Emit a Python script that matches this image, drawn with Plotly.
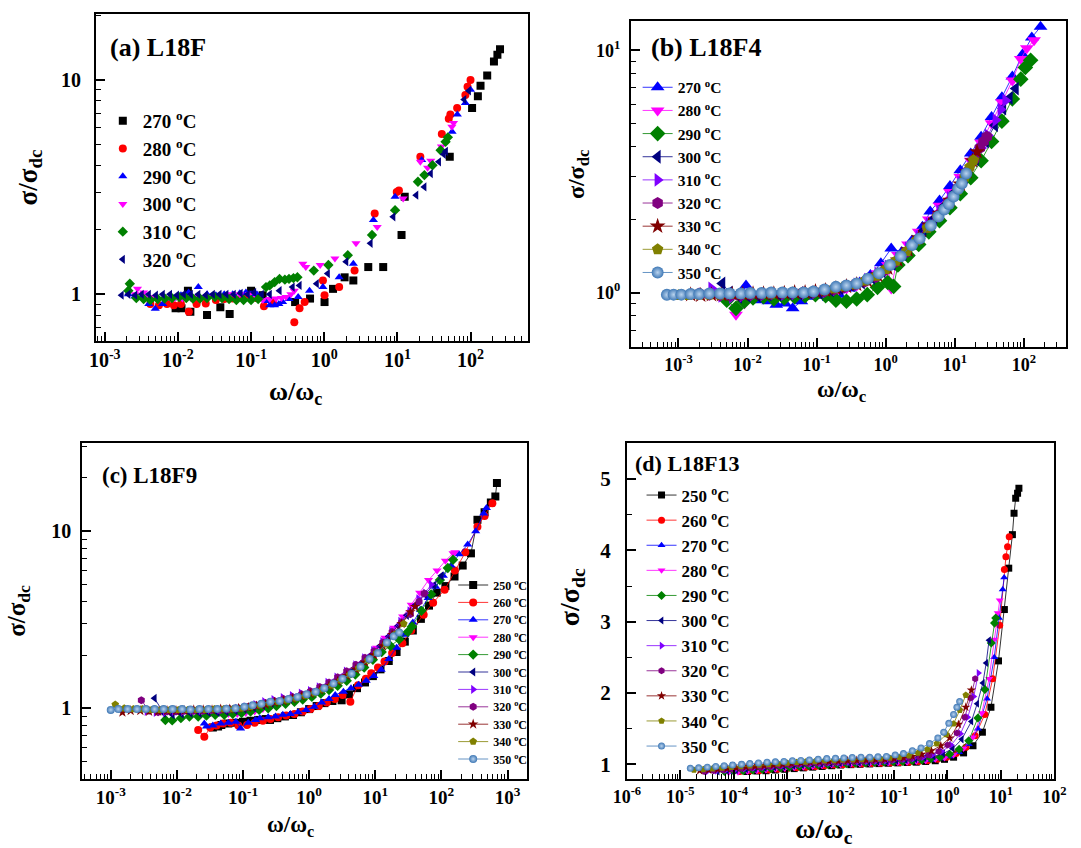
import plotly.graph_objects as go

W, H = 1081, 848
SERIF = "Liberation Serif"

# ---------------- (a) L18F : sigma/sigma_dc vs omega/omega_c ----------------
A270_X = [0.0093, 0.0112, 0.0137, 0.0148, 0.025, 0.038, 0.051, 0.10, 0.144, 0.40, 0.64, 1.01, 1.32, 1.9,
          2.5, 4.0, 6.4, 11.4, 12.6, 52, 105, 126, 137, 169, 209, 233, 253]
A270_Y = [0.86, 0.86, 1.04, 0.83, 0.80, 0.87, 0.81, 1.04, 0.99, 0.92, 0.955, 0.92, 1.06, 1.2,
          1.16, 1.34, 1.34, 1.89, 2.85, 4.38, 7.4, 8.4, 9.4, 10.5, 12.2, 13.1, 13.9]
A280_X = [0.0042, 0.0055, 0.0071, 0.0088, 0.011, 0.0141, 0.018, 0.024, 0.033, 0.043, 0.056, 0.075, 0.095,
          0.12, 0.15, 0.2, 0.39, 0.46, 0.54, 0.96, 1.01, 1.6, 2.6, 4.9, 9.8, 10.5, 20.6, 40.5, 50.4, 53,
          65.6, 85, 91, 100]
A280_Y = [0.9, 0.89, 0.9, 0.89, 0.9, 0.83, 0.9, 0.905, 0.94, 0.95, 0.955, 0.97, 0.99,
          0.96, 0.88, 0.92, 0.74, 0.86, 0.92, 1.16, 0.99, 1.08, 1.29, 2.38, 3.0, 3.05, 4.38, 5.6, 6.6, 6.9,
          7.4, 8.5, 9.3, 10.0]
A290_X = [0.0021, 0.0026, 0.0032, 0.004, 0.0049, 0.0062, 0.0084, 0.011, 0.014, 0.019, 0.025, 0.033, 0.043,
          0.056, 0.07, 0.085, 0.1, 0.12, 0.16, 0.18, 0.21, 0.24, 0.27, 0.33, 0.44, 0.63, 0.96, 1.6, 2.5,
          4.7, 9.3, 21.5, 56, 66, 85, 100]
A290_Y = [1.0, 0.98, 0.97, 0.9, 0.857, 0.9, 0.955, 0.99, 1.02, 1.08, 1.0, 0.99, 1.0,
          1.0, 1.01, 1.02, 1.0, 1.0, 0.93, 0.89, 0.89, 0.9, 0.92, 0.95, 0.97, 1.04, 1.08, 1.2, 1.39,
          2.22, 2.85, 4.23, 5.74, 6.9, 7.8, 9.0]
A300_X = [0.0026, 0.0028, 0.0034, 0.004, 0.005, 0.0068, 0.009, 0.0115, 0.015, 0.019, 0.025, 0.033, 0.042,
          0.053, 0.07, 0.095, 0.12, 0.145, 0.18, 0.22, 0.26, 0.3, 0.35, 0.39, 0.51, 0.56, 0.88, 1.4, 2.72,
          5.3, 12.0, 20.6, 25.9, 28.6, 40, 55.6, 58.6]
A300_Y = [1.0, 1.06, 1.02, 0.97, 0.96, 0.955, 0.96, 0.955, 0.96, 0.97, 0.97, 0.97, 0.98,
          1.0, 1.0, 1.0, 0.96, 0.94, 0.95, 0.955, 0.96, 0.97, 1.0, 1.04, 1.39, 1.34, 1.37, 1.47, 1.73,
          2.06, 2.8, 4.15, 3.9, 4.2, 4.9, 6.05, 6.3]
A310_X = [0.0021, 0.0022, 0.0027, 0.0034, 0.0042, 0.0053, 0.0066, 0.0083, 0.0104, 0.013, 0.016, 0.02,
          0.025, 0.032, 0.04, 0.05, 0.063, 0.079, 0.1, 0.125, 0.16, 0.18, 0.21, 0.245, 0.29, 0.33, 0.38,
          0.43, 0.72, 1.14, 2.1, 4.5, 9.3, 19.1, 23.4, 30.2, 39, 45.6, 49]
A310_Y = [1.04, 1.12, 0.96, 0.95, 0.94, 0.95, 0.955, 0.96, 0.97, 0.96, 0.955, 0.955,
          0.96, 0.97, 0.96, 0.95, 0.94, 0.94, 0.94, 0.95, 1.08, 1.10, 1.14, 1.18, 1.17, 1.18, 1.19,
          1.2, 1.29, 1.37, 1.52, 1.89, 2.47, 3.35, 3.6, 4.0, 4.7, 5.15, 5.4]
A320_X = [0.0017, 0.0021, 0.0026, 0.0032, 0.004, 0.005, 0.0062, 0.0078, 0.0097, 0.012, 0.015, 0.019,
          0.024, 0.03, 0.037, 0.046, 0.058, 0.072, 0.09, 0.11, 0.14, 0.18, 0.245, 0.37, 0.46, 0.79, 1.12,
          2.0, 4.3, 8.8, 18.1, 23.4, 28.6, 37, 43, 46, 82, 95]
A320_Y = [0.99, 1.0, 0.99, 1.0, 1.0, 0.99, 1.0, 1.0, 0.99, 1.0, 1.0, 1.0,
          0.99, 1.0, 1.0, 1.0, 1.0, 1.01, 1.0, 1.02, 1.0, 1.0, 1.04, 1.08, 1.10, 1.12, 1.25,
          1.42, 1.73, 2.3, 2.9, 3.17, 3.66, 4.15, 4.5, 4.65, 8.1, 8.9]

# ---------------- (b) L18F4 ----------------
B270_X = [8e-3, 0.0095, 0.012, 0.015, 0.02, 0.026, 0.035, 0.045, 0.06, 0.08, 0.11, 0.15, 0.21, 0.3, 0.42,
          0.6, 0.85, 1.2, 1.7, 2.4, 3.4, 4.4, 6.0, 8.5, 12, 17, 24, 34, 48, 68, 95, 130, 174]
B270_Y = [0.97, 1.07, 0.96, 0.93, 0.92, 0.89, 0.9, 0.86, 0.92, 0.96, 0.97, 0.95, 0.98, 1.04, 1.1,
          1.18, 1.32, 1.52, 1.47, 1.64, 1.87, 2.16, 2.4, 2.75, 3.2, 3.75, 4.4, 5.3, 6.4, 7.8, 9.6, 11.3, 12.5]
B280_X = [5e-3, 6.8e-3, 9e-3, 0.012, 0.017, 0.024, 0.034, 0.048, 0.068, 0.096, 0.135, 0.19, 0.27, 0.38,
          0.54, 0.76, 1.07, 1.2, 1.5, 2.1, 3.0, 4.2, 6.0, 8.5, 12, 17, 24, 34, 48, 68, 90, 110, 140]
B280_Y = [0.93, 0.81, 0.9, 0.95, 0.96, 0.96, 0.95, 0.97, 0.98, 0.99, 0.99, 1.0, 1.04, 1.07,
          1.12, 1.2, 1.3, 1.04, 1.43, 1.58, 1.78, 2.0, 2.28, 2.6, 3.0, 3.5, 4.15, 5.0, 6.1, 7.5, 9.2, 10.2, 11.0]
B290_X = [5e-3, 6.8e-3, 9e-3, 0.012, 0.017, 0.024, 0.034, 0.048, 0.068, 0.096, 0.135, 0.19, 0.27, 0.38,
          0.54, 0.76, 1.07, 1.3, 1.5, 2.1, 3.0, 4.2, 6.0, 8.5, 12, 17, 24, 34, 48, 68, 90, 105, 125]
B290_Y = [0.93, 0.86, 0.92, 0.95, 0.96, 0.94, 0.95, 0.96, 0.97, 0.98, 0.97, 0.93, 0.92, 0.94,
          0.98, 1.05, 1.1, 1.06, 1.3, 1.42, 1.58, 1.78, 1.98, 2.24, 2.56, 2.98, 3.5, 4.2, 5.1, 6.3, 7.6, 8.5, 9.1]
B300_X = [4.3e-3, 5.5e-3, 7.5e-3, 0.01, 0.014, 0.02, 0.028, 0.04, 0.056, 0.08, 0.11, 0.16, 0.22, 0.32,
          0.45, 0.63, 0.9, 1.25, 1.8, 2.5, 3.5, 5.0, 7.0, 10, 14, 20, 28, 38, 50, 62, 76]
B300_Y = [1.09, 1.0, 0.96, 0.97, 0.97, 0.98, 0.98, 0.99, 0.99, 1.0, 1.0, 1.02, 1.04, 1.07,
          1.1, 1.15, 1.22, 1.31, 1.44, 1.6, 1.8, 2.02, 2.28, 2.6, 3.0, 3.55, 4.2, 4.9, 5.75, 6.35, 6.95]
B310_X = [3e-3, 4.2e-3, 6e-3, 8.5e-3, 0.012, 0.017, 0.024, 0.034, 0.048, 0.068, 0.096, 0.135, 0.19, 0.27,
          0.38, 0.54, 0.76, 1.07, 1.5, 2.1, 3.0, 4.2, 6.0, 8.5, 12, 17, 24, 30, 39, 46, 54]
B310_Y = [1.04, 0.97, 0.96, 0.97, 0.98, 0.98, 0.99, 0.985, 0.99, 0.995, 1.0, 1.01, 1.03, 1.05,
          1.08, 1.13, 1.2, 1.28, 1.38, 1.52, 1.7, 1.92, 2.16, 2.46, 2.85, 3.35, 3.95, 4.45, 5.15, 5.7, 6.2]
B320_X = [2e-3, 2.8e-3, 4e-3, 5.6e-3, 8e-3, 0.011, 0.016, 0.022, 0.032, 0.045, 0.063, 0.09, 0.13, 0.18,
          0.25, 0.36, 0.5, 0.72, 1.0, 1.4, 2.0, 2.8, 4.0, 5.6, 8.0, 11, 15, 19, 23, 26, 29]
B320_Y = [0.99, 0.98, 0.975, 0.97, 0.975, 0.98, 0.985, 0.985, 0.99, 0.995, 1.0, 1.0, 1.01, 1.03,
          1.05, 1.08, 1.11, 1.16, 1.24, 1.34, 1.47, 1.64, 1.86, 2.08, 2.36, 2.7, 3.15, 3.55, 3.95, 4.2, 4.4]
B330_X = [1.5e-3, 2.1e-3, 3e-3, 4.2e-3, 6e-3, 8.5e-3, 0.012, 0.017, 0.024, 0.034, 0.048, 0.068, 0.096,
          0.135, 0.19, 0.27, 0.38, 0.54, 0.76, 1.07, 1.5, 2.1, 3.0, 4.2, 6.0, 8.5, 12, 15, 18, 21]
B330_Y = [0.98, 0.975, 0.98, 0.98, 0.985, 0.985, 0.99, 0.99, 0.99, 0.995, 1.0, 1.0, 1.01,
          1.02, 1.04, 1.06, 1.08, 1.12, 1.18, 1.26, 1.36, 1.5, 1.68, 1.9, 2.12, 2.4, 2.8, 3.15, 3.5, 3.81]
B340_X = [1e-3, 1.4e-3, 2e-3, 2.8e-3, 4e-3, 5.6e-3, 8e-3, 0.011, 0.016, 0.022, 0.032, 0.045, 0.063, 0.09,
          0.13, 0.18, 0.25, 0.36, 0.5, 0.72, 1.0, 1.4, 2.0, 2.8, 4.0, 5.6, 8.0, 11, 14, 16.5, 18.6]
B340_Y = [0.975, 0.975, 0.98, 0.98, 0.98, 0.985, 0.985, 0.99, 0.99, 0.99, 0.995, 1.0, 1.0, 1.01,
          1.02, 1.04, 1.06, 1.08, 1.12, 1.17, 1.25, 1.35, 1.48, 1.64, 1.85, 2.06, 2.32, 2.65, 3.0, 3.3, 3.52]
B350_X = [6.8e-4, 8.5e-4, 1.1e-3, 1.5e-3, 2e-3, 2.8e-3, 4e-3, 5.5e-3, 8e-3, 0.011, 0.016, 0.022, 0.032,
          0.045, 0.065, 0.09, 0.13, 0.19, 0.27, 0.38, 0.55, 0.8, 1.15, 1.65, 2.4, 3.1, 4.5, 5.8, 7.0, 8.2,
          9.6, 11.2, 12.6, 14.6]
B350_Y = [0.978, 0.98, 0.98, 0.985, 0.985, 0.99, 0.99, 0.99, 0.99, 0.995, 0.995, 1.0, 1.0,
          1.0, 1.0, 1.01, 1.03, 1.055, 1.07, 1.09, 1.14, 1.2, 1.3, 1.41, 1.57, 1.67, 1.89, 2.06, 2.2, 2.32,
          2.49, 2.68, 2.82, 3.1]

# ---------------- (c) L18F9 ----------------
C250_X = [0.035, 0.042, 0.047, 0.06, 0.078, 0.1, 0.13, 0.17, 0.22, 0.256, 0.33, 0.43, 0.57, 0.75, 1.0,
          1.3, 1.7, 2.25, 3.1, 4.0, 5.3, 7.0, 9.2, 12, 16, 21, 28, 37, 49, 65, 85, 115, 158, 210, 280,
          351, 450, 560, 655, 692]
C250_Y = [0.78, 0.79, 0.805, 0.82, 0.83, 0.84, 0.85, 0.86, 0.87, 0.86, 0.88, 0.9, 0.917, 0.95, 0.99,
          1.03, 1.07, 1.1, 1.11, 1.2, 1.3, 1.4, 1.52, 1.66, 1.85, 2.08, 2.38, 2.75, 3.2, 3.8, 4.5, 4.9, 5.55,
          6.4, 7.5, 11.6, 12.8, 14.5, 15.7, 18.7]
C260_X = [0.021, 0.026, 0.032, 0.04, 0.05, 0.065, 0.085, 0.115, 0.15, 0.2, 0.26, 0.34, 0.45, 0.6, 0.8,
          1.05, 1.4, 1.85, 2.45, 3.2, 4.2, 5.5, 7.2, 8.7, 11, 13.8, 18, 25.7, 35, 54, 75, 112, 160, 230,
          351, 450, 590]
C260_Y = [0.755, 0.69, 0.78, 0.8, 0.82, 0.83, 0.8, 0.805, 0.83, 0.85, 0.87, 0.89, 0.91, 0.93, 0.96,
          0.99, 1.03, 1.08, 1.13, 1.19, 1.09, 1.35, 1.47, 1.58, 1.7, 1.84, 2.05, 2.33, 2.75, 3.37, 3.95,
          4.67, 6.0, 7.6, 10.6, 12.2, 14.4]
C270_X = [0.026, 0.028, 0.035, 0.046, 0.06, 0.078, 0.092, 0.12, 0.155, 0.18, 0.24, 0.31, 0.4, 0.52, 0.68,
          0.9, 1.2, 1.55, 2.0, 2.48, 3.3, 4.3, 5.6, 7.3, 9.5, 12.3, 16, 21, 28, 37, 48, 63, 82, 107, 140,
          185, 250, 330, 436, 480]
C270_Y = [0.82, 0.79, 0.8, 0.82, 0.83, 0.84, 0.77, 0.83, 0.86, 0.88, 0.89, 0.9, 0.92, 0.93, 0.95,
          0.98, 1.02, 1.08, 1.13, 1.19, 1.24, 1.3, 1.36, 1.43, 1.52, 1.65, 1.9, 2.2, 2.6, 3.05, 3.6, 4.2,
          4.85, 5.6, 6.4, 7.4, 8.4, 10.0, 12.6, 13.5]
C280_X = [0.01, 0.0135, 0.018, 0.025, 0.033, 0.045, 0.06, 0.082, 0.11, 0.15, 0.2, 0.27, 0.37, 0.5, 0.68,
          0.92, 1.25, 1.7, 2.3, 3.1, 4.2, 5.7, 7.7, 10.4, 14, 19, 26, 35, 47, 64, 86, 115, 150, 160]
C280_Y = [0.98, 0.97, 0.96, 0.95, 0.94, 0.94, 0.93, 0.93, 0.94, 0.96, 0.99, 1.03, 1.07, 1.1, 1.14,
          1.18, 1.23, 1.3, 1.38, 1.48, 1.6, 1.76, 1.95, 2.2, 2.5, 2.85, 3.3, 3.85, 4.5, 5.3, 6.0, 6.8, 7.5, 7.6]
C290_X = [6.7e-3, 8.5e-3, 0.0115, 0.0155, 0.021, 0.028, 0.038, 0.052, 0.07, 0.095, 0.13, 0.175, 0.24,
          0.32, 0.44, 0.6, 0.8, 1.1, 1.5, 2.0, 2.7, 3.7, 5.0, 6.8, 9.2, 12.5, 17, 23, 31, 36, 50, 70, 95,
          125, 150]
C290_Y = [0.86, 0.855, 0.88, 0.9, 0.9, 0.91, 0.92, 0.92, 0.93, 0.94, 0.96, 0.98, 1.0,
          1.03, 1.06, 1.09, 1.12, 1.16, 1.21, 1.27, 1.34, 1.43, 1.55, 1.7, 1.88, 2.08, 2.25, 2.45, 2.7,
          2.9, 3.55, 4.4, 5.3, 6.2, 6.9]
C300_X = [4.6e-3, 6.3e-3, 8.6e-3, 0.0118, 0.016, 0.022, 0.03, 0.041, 0.056, 0.077, 0.105, 0.145, 0.2,
          0.27, 0.37, 0.51, 0.7, 0.96, 1.3, 1.8, 2.45, 3.35, 4.6, 6.3, 8.6, 11.8, 16, 22, 30, 41, 56, 77, 100]
C300_Y = [1.14, 0.94, 0.92, 0.93, 0.94, 0.94, 0.95, 0.95, 0.96, 0.97, 0.99, 1.01, 1.04,
          1.07, 1.1, 1.13, 1.17, 1.21, 1.26, 1.33, 1.41, 1.51, 1.64, 1.8, 2.0, 2.25, 2.55, 2.92, 3.35,
          3.85, 4.4, 4.95, 5.6]
C310_X = [3.5e-3, 4.8e-3, 6.6e-3, 9e-3, 0.0124, 0.017, 0.023, 0.032, 0.044, 0.06, 0.082, 0.11, 0.155,
          0.21, 0.29, 0.4, 0.55, 0.75, 1.03, 1.4, 1.9, 2.6, 3.6, 5.0, 6.8, 9.3, 12.8, 17.5, 24, 33, 45, 57, 70]
C310_Y = [0.96, 0.95, 0.95, 0.96, 0.96, 0.97, 0.97, 0.98, 0.98, 0.99, 1.0, 1.02, 1.05,
          1.09, 1.12, 1.15, 1.18, 1.22, 1.26, 1.32, 1.4, 1.5, 1.62, 1.76, 1.93, 2.12, 2.38, 2.72, 3.1,
          3.55, 4.15, 4.47, 5.0]
C320_X = [2.9e-3, 3.8e-3, 5.2e-3, 7.1e-3, 9.7e-3, 0.013, 0.018, 0.025, 0.034, 0.046, 0.063, 0.086, 0.12,
          0.16, 0.22, 0.3, 0.41, 0.56, 0.77, 1.05, 1.45, 2.0, 2.7, 3.7, 5.1, 7.0, 9.6, 13, 18, 25, 34, 46, 55]
C320_Y = [1.11, 0.97, 0.95, 0.96, 0.96, 0.97, 0.97, 0.97, 0.98, 0.98, 0.99, 1.0, 1.02,
          1.04, 1.07, 1.1, 1.13, 1.16, 1.2, 1.25, 1.32, 1.4, 1.5, 1.62, 1.76, 1.93, 2.1, 2.35, 2.7, 3.05,
          3.4, 4.0, 4.45]
C330_X = [1.5e-3, 2e-3, 2.8e-3, 3.8e-3, 5.2e-3, 7.1e-3, 9.7e-3, 0.013, 0.018, 0.025, 0.034, 0.046, 0.063,
          0.086, 0.12, 0.16, 0.22, 0.3, 0.41, 0.56, 0.77, 1.05, 1.45, 2.0, 2.7, 3.7, 5.1, 7.0, 9.6, 13, 18,
          25, 34, 40]
C330_Y = [0.95, 0.97, 0.97, 0.96, 0.96, 0.97, 0.97, 0.97, 0.98, 0.98, 0.98, 0.99, 0.99,
          1.0, 1.01, 1.03, 1.05, 1.08, 1.1, 1.13, 1.17, 1.21, 1.27, 1.34, 1.42, 1.53, 1.66, 1.82, 2.0, 2.25,
          2.6, 3.0, 3.5, 3.75]
C340_X = [1.17e-3, 1.6e-3, 2.2e-3, 3e-3, 4.1e-3, 5.6e-3, 7.7e-3, 0.0105, 0.0145, 0.02, 0.027, 0.037,
          0.051, 0.07, 0.096, 0.13, 0.18, 0.25, 0.34, 0.46, 0.63, 0.87, 1.2, 1.6, 2.2, 3.0, 4.1, 5.6, 7.7,
          10.5, 14.5, 20, 27]
C340_Y = [1.05, 1.0, 0.99, 0.99, 0.98, 0.98, 0.98, 0.98, 0.98, 0.98, 0.98, 0.99,
          0.99, 0.99, 1.0, 1.02, 1.04, 1.07, 1.09, 1.11, 1.14, 1.18, 1.22, 1.28, 1.35, 1.44, 1.55, 1.69,
          1.87, 2.06, 2.3, 2.62, 3.0]
C350_X = [1.0e-3, 1.3e-3, 1.8e-3, 2.5e-3, 3.4e-3, 4.6e-3, 6.3e-3, 8.6e-3, 0.012, 0.016, 0.022, 0.03,
          0.041, 0.056, 0.077, 0.105, 0.14, 0.19, 0.26, 0.36, 0.49, 0.67, 0.92, 1.26, 1.7, 2.34, 3.2, 4.4,
          6.0, 8.2, 11, 15, 19, 23]
C350_Y = [0.98, 0.99, 0.99, 0.99, 0.99, 0.99, 0.99, 0.99, 0.99, 0.985, 0.99, 0.99,
          0.99, 0.995, 1.0, 1.02, 1.04, 1.06, 1.09, 1.1, 1.13, 1.16, 1.2, 1.24, 1.3, 1.38, 1.47, 1.57,
          1.72, 1.9, 2.05, 2.35, 2.55, 2.68]

# ---------------- (d) L18F13 ----------------
D250_X = [1.8e-4, 2.7e-4, 4e-4, 6e-4, 9e-4, 1.35e-3, 2e-3, 3e-3, 4.5e-3, 6.8e-3, 0.01, 0.0155, 0.023,
          0.035, 0.052, 0.078, 0.117, 0.175, 0.26, 0.39, 0.59, 0.88, 1.3, 2.0, 3.0, 4.5, 6.5, 9.0, 11.6,
          14, 16.4, 17.6, 18.9, 20.5, 21.7]
D250_Y = [0.9, 0.905, 0.91, 0.92, 0.93, 0.94, 0.95, 0.96, 0.97, 0.98, 0.99, 0.995, 1.0,
          1.005, 1.01, 1.015, 1.02, 1.025, 1.03, 1.04, 1.05, 1.07, 1.1, 1.16, 1.26, 1.45, 1.8, 2.45, 3.17,
          3.75, 4.22, 4.52, 4.73, 4.8, 4.87]
D260_X = [1.3e-4, 2e-4, 3e-4, 4.5e-4, 6.7e-4, 1e-3, 1.5e-3, 2.25e-3, 3.4e-3, 5e-3, 7.5e-3, 0.011, 0.017,
          0.025, 0.038, 0.057, 0.085, 0.128, 0.19, 0.29, 0.43, 0.65, 0.97, 1.45, 2.2, 3.3, 5.0, 7.0, 9.5,
          11.6, 12.4, 13.3, 14.3]
D260_Y = [0.9, 0.905, 0.91, 0.92, 0.93, 0.94, 0.95, 0.96, 0.97, 0.98, 0.99, 0.995, 1.0,
          1.005, 1.01, 1.015, 1.02, 1.025, 1.03, 1.04, 1.05, 1.07, 1.1, 1.15, 1.24, 1.4, 1.7, 2.2, 2.95,
          3.73, 3.91, 4.05, 4.19]
D270_X = [1e-4, 1.5e-4, 2.25e-4, 3.4e-4, 5e-4, 7.5e-4, 1.1e-3, 1.7e-3, 2.5e-3, 3.8e-3, 5.7e-3, 8.5e-3,
          0.0128, 0.019, 0.029, 0.043, 0.065, 0.097, 0.145, 0.22, 0.33, 0.49, 0.73, 1.1, 1.65, 2.5, 3.7,
          5.5, 7.5, 9.2, 10.8, 11.5]
D270_Y = [0.89, 0.9, 0.91, 0.92, 0.93, 0.94, 0.95, 0.96, 0.97, 0.98, 0.99, 0.995,
          1.0, 1.005, 1.01, 1.015, 1.02, 1.025, 1.03, 1.04, 1.05, 1.06, 1.08, 1.11, 1.17, 1.28, 1.5,
          1.92, 2.5, 3.05, 3.45, 3.62]
D280_X = [8e-5, 1.2e-4, 1.8e-4, 2.7e-4, 4e-4, 6e-4, 9e-4, 1.35e-3, 2e-3, 3e-3, 4.5e-3, 6.8e-3, 0.01,
          0.0155, 0.023, 0.035, 0.052, 0.078, 0.117, 0.175, 0.26, 0.39, 0.59, 0.88, 1.3, 2.0, 3.0, 4.4,
          6.0, 7.5, 8.7, 9.5]
D280_Y = [0.88, 0.89, 0.9, 0.91, 0.92, 0.93, 0.94, 0.95, 0.96, 0.97, 0.98, 0.99, 0.995,
          1.0, 1.005, 1.01, 1.015, 1.02, 1.025, 1.03, 1.04, 1.05, 1.07, 1.09, 1.13, 1.22, 1.38, 1.72,
          2.2, 2.75, 3.12, 3.3]
D290_X = [6.7e-5, 1e-4, 1.5e-4, 2.25e-4, 3.4e-4, 5e-4, 7.5e-4, 1.1e-3, 1.7e-3, 2.5e-3, 3.8e-3, 5.7e-3,
          8.5e-3, 0.0128, 0.019, 0.029, 0.043, 0.065, 0.097, 0.145, 0.22, 0.33, 0.49, 0.73, 1.1, 1.65, 2.5,
          3.7, 5.0, 6.6, 7.6, 8.0]
D290_Y = [0.9, 0.905, 0.91, 0.92, 0.93, 0.94, 0.95, 0.96, 0.97, 0.98, 0.99, 1.0,
          1.005, 1.01, 1.015, 1.02, 1.025, 1.03, 1.035, 1.04, 1.05, 1.06, 1.08, 1.1, 1.14, 1.21, 1.33,
          1.65, 2.05, 2.7, 2.98, 3.05]
D300_X = [5e-5, 7.5e-5, 1.1e-4, 1.7e-4, 2.5e-4, 3.8e-4, 5.7e-4, 8.5e-4, 1.3e-3, 1.9e-3, 2.9e-3, 4.3e-3,
          6.5e-3, 9.7e-3, 0.0145, 0.022, 0.033, 0.049, 0.073, 0.11, 0.165, 0.25, 0.37, 0.55, 0.83, 1.25,
          1.85, 2.8, 3.6, 4.6, 5.3, 6.0]
D300_Y = [0.9, 0.91, 0.92, 0.93, 0.94, 0.95, 0.96, 0.97, 0.98, 0.99, 1.0, 1.005,
          1.01, 1.015, 1.02, 1.025, 1.03, 1.035, 1.04, 1.05, 1.06, 1.07, 1.09, 1.11, 1.15, 1.22,
          1.35, 1.6, 1.85, 2.14, 2.42, 2.74]
D310_X = [3.2e-5, 4.8e-5, 7.2e-5, 1.1e-4, 1.6e-4, 2.4e-4, 3.6e-4, 5.4e-4, 8.1e-4, 1.2e-3, 1.8e-3, 2.7e-3,
          4.1e-3, 6.1e-3, 9.2e-3, 0.014, 0.021, 0.031, 0.046, 0.07, 0.1, 0.155, 0.23, 0.35, 0.52, 0.78,
          1.17, 1.75, 2.4, 3.1, 3.8]
D310_Y = [0.9, 0.91, 0.92, 0.93, 0.94, 0.95, 0.96, 0.97, 0.98, 0.99, 1.0, 1.005,
          1.01, 1.02, 1.025, 1.03, 1.035, 1.04, 1.045, 1.05, 1.06, 1.07, 1.08, 1.1, 1.13, 1.18,
          1.27, 1.43, 1.66, 1.95, 2.28]
D320_X = [2.8e-5, 4.2e-5, 6.3e-5, 9.5e-5, 1.4e-4, 2.1e-4, 3.2e-4, 4.8e-4, 7.2e-4, 1.1e-3, 1.6e-3, 2.4e-3,
          3.6e-3, 5.4e-3, 8e-3, 0.012, 0.018, 0.027, 0.04, 0.06, 0.09, 0.135, 0.2, 0.3, 0.45, 0.68, 1.0,
          1.5, 2.1, 2.7, 3.3]
D320_Y = [0.9, 0.91, 0.92, 0.93, 0.94, 0.95, 0.96, 0.97, 0.98, 0.99, 1.0, 1.01,
          1.02, 1.025, 1.03, 1.035, 1.04, 1.045, 1.05, 1.055, 1.06, 1.07, 1.08, 1.1, 1.13, 1.18, 1.27,
          1.44, 1.66, 1.93, 2.2]
D330_X = [2.3e-5, 3.4e-5, 5e-5, 7.5e-5, 1.1e-4, 1.7e-4, 2.5e-4, 3.7e-4, 5.5e-4, 8.2e-4, 1.2e-3, 1.8e-3,
          2.7e-3, 4e-3, 6e-3, 9e-3, 0.0135, 0.02, 0.03, 0.045, 0.067, 0.1, 0.15, 0.22, 0.33, 0.5, 0.75,
          1.1, 1.6, 2.2, 2.8]
D330_Y = [0.91, 0.92, 0.93, 0.94, 0.95, 0.96, 0.97, 0.98, 0.99, 1.0, 1.01, 1.02,
          1.03, 1.035, 1.04, 1.045, 1.05, 1.055, 1.06, 1.065, 1.07, 1.08, 1.09, 1.11, 1.14, 1.19, 1.26,
          1.37, 1.56, 1.8, 2.04]
D340_X = [1.8e-5, 2.7e-5, 4e-5, 6e-5, 9e-5, 1.35e-4, 2e-4, 3e-4, 4.5e-4, 6.7e-4, 1e-3, 1.5e-3, 2.2e-3,
          3.3e-3, 5e-3, 7.5e-3, 0.011, 0.017, 0.025, 0.037, 0.055, 0.083, 0.125, 0.19, 0.28, 0.42, 0.63,
          0.95, 1.3, 1.7, 2.2]
D340_Y = [0.92, 0.93, 0.94, 0.95, 0.96, 0.97, 0.98, 0.99, 1.0, 1.01, 1.02, 1.03, 1.035,
          1.04, 1.05, 1.055, 1.06, 1.065, 1.07, 1.075, 1.08, 1.09, 1.1, 1.12, 1.16, 1.21, 1.29,
          1.42, 1.57, 1.76, 1.97]
D350_X = [1.54e-5, 2.2e-5, 3.2e-5, 4.6e-5, 6.6e-5, 9.5e-5, 1.4e-4, 2e-4, 2.9e-4, 4.2e-4, 6e-4, 8.7e-4,
          1.25e-3, 1.8e-3, 2.6e-3, 3.8e-3, 5.5e-3, 8e-3, 0.0115, 0.0165, 0.024, 0.035, 0.05, 0.072, 0.105,
          0.15, 0.22, 0.32, 0.46, 0.66, 0.85, 1.06, 1.3, 1.5, 1.69]
D350_Y = [0.944, 0.95, 0.96, 0.97, 0.98, 0.99, 1.0, 1.01, 1.02, 1.03, 1.035, 1.04,
          1.05, 1.055, 1.06, 1.07, 1.08, 1.085, 1.09, 1.095, 1.1, 1.1, 1.105, 1.11, 1.13,
          1.15, 1.19, 1.23, 1.29, 1.37, 1.45, 1.575, 1.7, 1.8, 1.88]

# ---------------- temperatures & ticks ----------------
A_TEMPS = [270, 280, 290, 300, 310, 320]
B_TEMPS = [270, 280, 290, 300, 310, 320, 330, 340, 350]
CD_TEMPS = [250, 260, 270, 280, 290, 300, 310, 320, 330, 340, 350]

A_SERIES = [(A270_X, A270_Y), (A280_X, A280_Y), (A290_X, A290_Y),
            (A300_X, A300_Y), (A310_X, A310_Y), (A320_X, A320_Y)]
B_SERIES = [(B270_X, B270_Y), (B280_X, B280_Y), (B290_X, B290_Y), (B300_X, B300_Y), (B310_X, B310_Y),
            (B320_X, B320_Y), (B330_X, B330_Y), (B340_X, B340_Y), (B350_X, B350_Y)]
C_SERIES = [(C250_X, C250_Y), (C260_X, C260_Y), (C270_X, C270_Y), (C280_X, C280_Y), (C290_X, C290_Y),
            (C300_X, C300_Y), (C310_X, C310_Y), (C320_X, C320_Y), (C330_X, C330_Y), (C340_X, C340_Y),
            (C350_X, C350_Y)]
D_SERIES = [(D250_X, D250_Y), (D260_X, D260_Y), (D270_X, D270_Y), (D280_X, D280_Y), (D290_X, D290_Y),
            (D300_X, D300_Y), (D310_X, D310_Y), (D320_X, D320_Y), (D330_X, D330_Y), (D340_X, D340_Y),
            (D350_X, D350_Y)]

X_TICKS_AB = [1e-3, 1e-2, 1e-1, 1e0, 1e1, 1e2]
X_TEXT_AB = ["10<sup>-3</sup>", "10<sup>-2</sup>", "10<sup>-1</sup>", "10<sup>0</sup>", "10<sup>1</sup>",
             "10<sup>2</sup>"]
X_TICKS_C = [1e-3, 1e-2, 1e-1, 1e0, 1e1, 1e2, 1e3]
X_TEXT_C = X_TEXT_AB + ["10<sup>3</sup>"]
X_TICKS_D = [1e-6, 1e-5, 1e-4, 1e-3, 1e-2, 1e-1, 1e0, 1e1, 1e2]
X_TEXT_D = ["10<sup>-6</sup>", "10<sup>-5</sup>", "10<sup>-4</sup>", "10<sup>-3</sup>", "10<sup>-2</sup>",
            "10<sup>-1</sup>", "10<sup>0</sup>", "10<sup>1</sup>", "10<sup>2</sup>"]
Y_TICKS_LOG = [1, 10]
Y_TEXT_AC = ["1", "10"]
Y_TEXT_B = ["10<sup>0</sup>", "10<sup>1</sup>"]
Y_TICKS_D = [1, 2, 3, 4, 5]
Y_TEXT_D = ["1", "2", "3", "4", "5"]

# Origin-like colour / symbol cycle
PALETTE = [("#000000", "square"), ("#FF0000", "circle"), ("#0000FF", "triangle-up"),
           ("#FF00FF", "triangle-down"), ("#008000", "diamond"), ("#000080", "triangle-left"),
           ("#8000FF", "triangle-right"), ("#800080", "hexagon"), ("#800000", "star"),
           ("#808000", "pentagon"), ("#3F78B5", "circle")]


def px_x(p):
    return p / W


def px_y(p):
    return 1 - p / H


def log_minor(lo, hi):
    return [m * 10.0 ** k for k in range(lo, hi + 1) for m in range(2, 10)]


def label(t):
    return f"{t} <sup>o</sup>C"


fig = go.Figure()


def add_panel(series, temps, styles, xa, ya, legends, mode, size, lw):
    for (xs, ys), t, (col, sym), lg in zip(series, temps, styles, legends):
        marker = dict(color=col, symbol=sym, size=size, line=dict(width=0))
        if t == 350:
            marker["gradient"] = dict(type="radial", color="#b9d3ee")
        fig.add_trace(go.Scatter(
            x=xs, y=ys, mode=mode, name=label(t), xaxis=xa, yaxis=ya, legend=lg,
            marker=marker, line=dict(color=col, width=lw), showlegend=True))


# panel (c) uses one small legend per entry so the rows can sit closer than plotly's minimum row height
C_LEGENDS = [f"legend{5 + i}" for i in range(len(CD_TEMPS))]

add_panel(A_SERIES, A_TEMPS, PALETTE[0:6], "x", "y", ["legend"] * 6, "markers", 8, 1)
add_panel(B_SERIES, B_TEMPS, PALETTE[2:11], "x2", "y2", ["legend2"] * 9, "lines+markers", 12, 0.8)
add_panel(C_SERIES, CD_TEMPS, PALETTE, "x3", "y3", C_LEGENDS, "lines+markers", 8, 0.8)
add_panel(D_SERIES, CD_TEMPS, PALETTE, "x4", "y4", ["legend4"] * 11, "lines+markers", 7, 0.8)


def axis(dom, rng, typ, vals, text, minor_vals, anchor, fsize, standoff, title=None):
    ax = dict(
        domain=dom, range=rng, type=typ, anchor=anchor,
        tickmode="array", tickvals=vals, ticktext=text,
        ticks="inside", ticklen=9, tickwidth=1.6, tickcolor="black",
        showline=True, linewidth=2, linecolor="black", mirror=True,
        showgrid=False, zeroline=False, ticklabelstandoff=standoff,
        tickfont=dict(family=SERIF, size=fsize, color="black", weight="bold"),
        minor=dict(tickmode="array", tickvals=minor_vals, ticks="inside", ticklen=5,
                   tickwidth=1.3, tickcolor="black", showgrid=False),
    )
    if title is not None:
        ax["title"] = title
    return ax


# plot-area boxes in pixels: (left, right, top, bottom)
BOX_A = (84, 527, 14, 341)
BOX_B = (632, 1078, 21, 347)
BOX_C = (70, 526, 443, 779)
BOX_D = (628, 1066, 443, 779)


def xdom(b):
    return [px_x(b[0]), px_x(b[1])]


def ydom(b):
    return [px_y(b[3]), px_y(b[2])]


SIG = "σ/σ<sub>dc</sub>"
OMG = "ω/ω<sub>c</sub>"


def ytitle(size, standoff):
    return dict(text=SIG, standoff=standoff,
                font=dict(family=SERIF, size=size, color="black", weight="bold"))


fig.update_layout(
    xaxis=axis(xdom(BOX_A), [-3.12, 2.79], "log", X_TICKS_AB, X_TEXT_AB, log_minor(-4, 2), "y", 20, 0),
    yaxis=axis(ydom(BOX_A), [-0.218, 1.308], "log", Y_TICKS_LOG, Y_TEXT_AC, log_minor(-1, 1), "x", 20, 9,
               ytitle(27, 16)),
    xaxis2=axis(xdom(BOX_B), [-3.69, 2.61], "log", X_TICKS_AB, X_TEXT_AB, log_minor(-4, 2), "y2", 18, 0),
    yaxis2=axis(ydom(BOX_B), [-0.225, 1.121], "log", Y_TICKS_LOG, Y_TEXT_B, log_minor(-1, 1), "x2", 18, 5),
    xaxis3=axis(xdom(BOX_C), [-3.43, 3.30], "log", X_TICKS_C, X_TEXT_C, log_minor(-4, 3), "y3", 19, 0),
    yaxis3=axis(ydom(BOX_C), [-0.399, 1.498], "log", Y_TICKS_LOG, Y_TEXT_AC, log_minor(-1, 1), "x3", 20, 5,
                ytitle(25, 19)),
    xaxis4=axis(xdom(BOX_D), [-6.0, 2.0], "log", X_TICKS_D, X_TEXT_D, log_minor(-6, 1), "y4", 18, 0),
    yaxis4=axis(ydom(BOX_D), [0.794, 5.505], "linear", Y_TICKS_D, Y_TEXT_D, [1.5, 2.5, 3.5, 4.5], "x4", 21, 10),
)


def legend_cfg(left, top, fsize):
    return dict(x=px_x(left), y=px_y(top), xanchor="left", yanchor="top",
                bgcolor="rgba(0,0,0,0)", borderwidth=0, itemwidth=30, tracegroupgap=0,
                font=dict(family=SERIF, size=fsize, color="black", weight="bold"))


legends = dict(
    legend=legend_cfg(91, 102, 19),
    legend2=legend_cfg(639, 70.7, 15.5),
    legend4=legend_cfg(643, 477.5, 17),
)
# (c): rows centred 17.4 px apart starting at y = 585
for i, name in enumerate(C_LEGENDS):
    legends[name] = legend_cfg(450, 585 + 17.4 * i - 14.5, 12)
fig.update_layout(**legends)

annotations = []


def text_at(x, y, txt, size, angle=0, xanchor="center"):
    annotations.append(dict(
        x=px_x(x), y=px_y(y), xref="paper", yref="paper", text=txt, showarrow=False,
        textangle=angle, xanchor=xanchor, yanchor="middle",
        font=dict(family=SERIF, size=size, color="black", weight="bold")))


# panel captions
text_at(96, 47, "(a) L18F", 26, xanchor="left")
text_at(651, 48, "(b) L18F4", 26, xanchor="left")
text_at(88, 475, "(c) L18F9", 23, xanchor="left")
text_at(634, 463, "(d) L18F13", 22, xanchor="left")

# remaining axis titles
text_at(288, 393, OMG, 26)
text_at(578, 174, SIG, 24, angle=-90)
text_at(848, 391, OMG, 24)
text_at(283, 826, OMG, 23)
text_at(571, 597, SIG, 28, angle=-90)
text_at(830, 830, OMG, 28)

fig.update_layout(
    width=W, height=H, margin=dict(l=0, r=0, t=0, b=0),
    paper_bgcolor="white", plot_bgcolor="white", showlegend=True,
    annotations=annotations,
    font=dict(family=SERIF, color="black"),
)

fig.write_html("out.html")
